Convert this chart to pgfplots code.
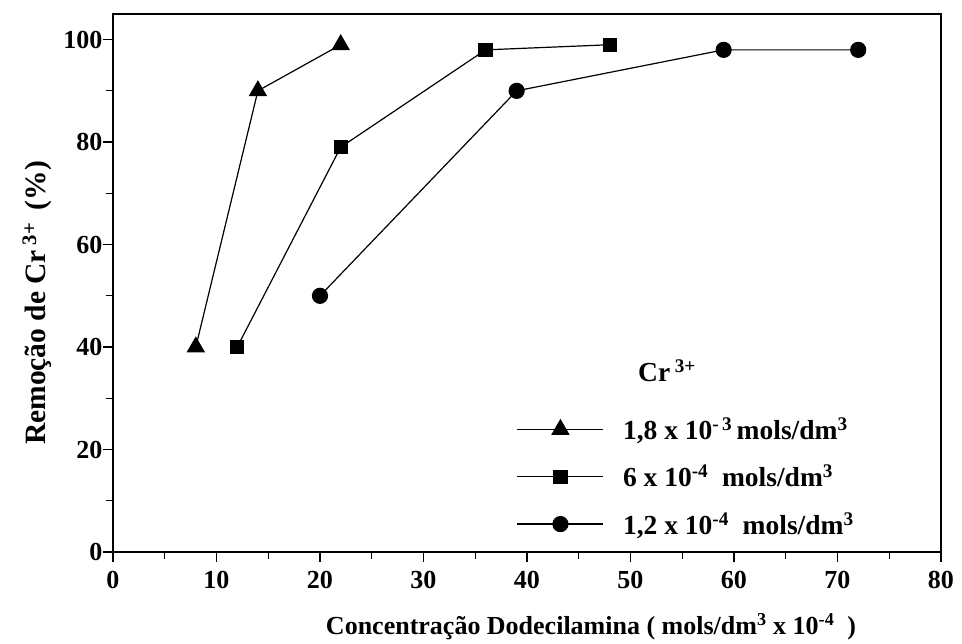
\documentclass[border=0pt]{standalone}
\usepackage{pgfplots}
\pgfplotsset{compat=1.18}
\usepackage{fontspec}
\setmainfont{Liberation Serif}
\usetikzlibrary{plotmarks}

\newcommand{\tickfont}{\fontsize{26}{30}\bfseries\selectfont}
\newcommand{\labfont}{\fontsize{26}{30}\bfseries\selectfont}
\newcommand{\ylabfont}{\fontsize{29.5}{34}\bfseries\selectfont}
\newcommand{\legfont}{\fontsize{27.5}{32}\bfseries\selectfont}

\begin{document}
\begin{tikzpicture}[x=1pt,y=1pt]
\begin{axis}[
  at={(0,0)}, anchor=south west,
  scale only axis,
  width=828pt, height=538pt,
  xmin=0, xmax=80, ymin=0, ymax=105,
  axis line style={line width=1.6pt},
  xtick={0,10,...,80},
  ytick={0,20,...,100},
  minor xtick={5,15,...,75},
  minor ytick={10,30,...,90},
  tick align=outside,
  major tick length=10pt,
  minor tick length=7pt,
  tick style={line width=1.2pt, black},
  xtick pos=bottom, ytick pos=left,
  tick label style={font=\tickfont},
  /pgf/number format/assume math mode=true,
  xticklabel style={yshift=-6pt},
  yticklabel style={xshift=3pt},
  clip=false,
  legend cell align=left,
  legend style={draw=none, fill=none, font=\legfont,
    at={(axis cs:39,26.6)}, anchor=north west,
    row sep=20pt, inner sep=0pt,
    /tikz/every odd column/.append style={column sep=17pt}},
  legend image code/.code={
    \draw[line width=1.2pt, mark repeat=2, mark phase=2]
      plot coordinates {(0pt,0pt) (43pt,0pt) (86pt,0pt)};},
]
% 1,8 x 10^-3 mol/dm3
\addplot[black, line width=1.2pt, mark=triangle*, mark size=9.5pt,
  mark options={solid}] coordinates {(8,40) (14,90) (22,99)};
\addlegendentry{1,8 x 10\textsuperscript{-\,3}\,mols/dm\textsuperscript{3}}
% 6 x 10^-4 mol/dm3
\addplot[black, line width=1.2pt, mark=square*, mark size=6.5pt]
  coordinates {(12,40) (22,79) (36,98) (48,99)};
\addlegendentry{6 x 10\textsuperscript{-4}\ \ mols/dm\textsuperscript{3}}
% 1,2 x 10^-4 mol/dm3
\addplot[black, line width=1.2pt, mark=*, mark size=7.5pt]
  coordinates {(20,50) (39,90) (59,98) (72,98)};
\addlegendentry{1,2 x 10\textsuperscript{-4}\ \ mols/dm\textsuperscript{3}}
\end{axis}
% legend heading and axis titles
\node[font=\legfont, anchor=base west, inner sep=0pt] at (525,170) {Cr\,\textsuperscript{3+}};
\node[font=\ylabfont, rotate=90] at (-76,249) {Remoção de Cr\,\textsuperscript{3+}\, (\%)};
\node[font=\labfont, anchor=base] at (478,-83)
  {Concentração Dodecilamina ( mols/dm\textsuperscript{3} x 10\textsuperscript{-4} \ )};
\path[use as bounding box] (-113,-87) rectangle (849,552);
\end{tikzpicture}
\end{document}
